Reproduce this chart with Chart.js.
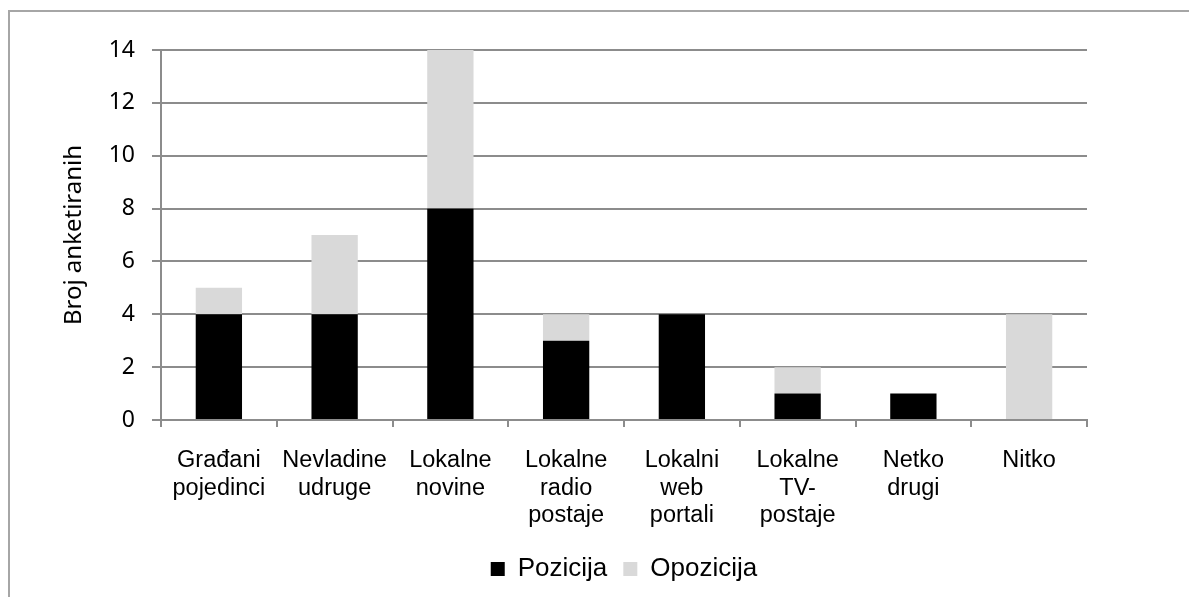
<!DOCTYPE html>
<html>
<head>
<meta charset="utf-8">
<script src="https://cdn.jsdelivr.net/npm/chart.js@4"></script>
<style>
  html, body { margin: 0; padding: 0; background: #fff; overflow: hidden; }
  #frame {
    position: absolute; left: 8px; top: 10px; width: 1300px; height: 700px;
    border-left: 2px solid #a6a6a6; border-top: 2px solid #a6a6a6;
  }
  #chart { position: absolute; left: 0; top: 0; }
</style>
</head>
<body>
<div id="frame"></div>
<canvas id="chart" width="1189" height="597"></canvas>
<script>
// kategorije (višeredne oznake)
const categories = [
  ['Građani', 'pojedinci'],
  ['Nevladine', 'udruge'],
  ['Lokalne', 'novine'],
  ['Lokalne', 'radio', 'postaje'],
  ['Lokalni', 'web', 'portali'],
  ['Lokalne', 'TV-', 'postaje'],
  ['Netko', 'drugi'],
  ['Nitko']
];

// vrijednosti serija
const pozicija = [4, 4, 8, 3, 4, 1, 1, 0];
const opozicija = [1, 3, 6, 1, 0, 1, 0, 4];

const yTitle = 'Broj anketiranih';
const gridGray = '#8c8c8c';

const ctx = document.getElementById('chart').getContext('2d');
new Chart(ctx, {
  type: 'bar',
  data: {
    labels: categories,
    datasets: [
      { label: 'Pozicija', data: pozicija, backgroundColor: '#000000', borderWidth: 0 },
      { label: 'Opozicija', data: opozicija, backgroundColor: '#d9d9d9', borderWidth: 0 }
    ]
  },
  options: {
    responsive: false,
    animation: false,
    layout: { padding: { left: 10, top: 50, right: 102, bottom: 5 } },
    datasets: { bar: { categoryPercentage: 1.0, barPercentage: 0.4 } },
    plugins: {
      legend: {
        position: 'bottom',
        fullSize: false,
        labels: {
          boxWidth: 14,
          boxHeight: 14,
          padding: 16,
          color: '#000',
          font: { family: "'Liberation Sans', Arial, sans-serif", size: 26 }
        }
      },
      tooltip: { enabled: false }
    },
    scales: {
      x: {
        stacked: true,
        grid: {
          display: true,
          drawOnChartArea: false,
          drawTicks: true,
          tickLength: 7,
          color: gridGray,
          lineWidth: 2
        },
        border: { display: true, color: gridGray, width: 2 },
        ticks: {
          color: '#000',
          padding: 20,
          maxRotation: 0,
          autoSkip: false,
          font: { family: "'Liberation Sans', Arial, sans-serif", size: 23.5, lineHeight: 1.17 }
        },
        afterFit: (scale) => { scale.height = 120; }
      },
      y: {
        stacked: true,
        min: 0,
        max: 14,
        ticks: {
          stepSize: 2,
          color: '#000',
          padding: 17,
          font: { family: "'Noto Sans', 'Open Sans', sans-serif", size: 23 }
        },
        grid: {
          color: gridGray,
          lineWidth: 2,
          drawTicks: true,
          tickLength: 9
        },
        border: { display: true, color: gridGray, width: 2 },
        title: {
          display: true,
          text: yTitle,
          color: '#000',
          padding: { top: 50, bottom: 0 },
          font: { family: "'Noto Sans', 'Open Sans', sans-serif", size: 24 }
        },
        afterFit: (scale) => { scale.width = 151; }
      }
    }
  }
});
</script>
</body>
</html>
